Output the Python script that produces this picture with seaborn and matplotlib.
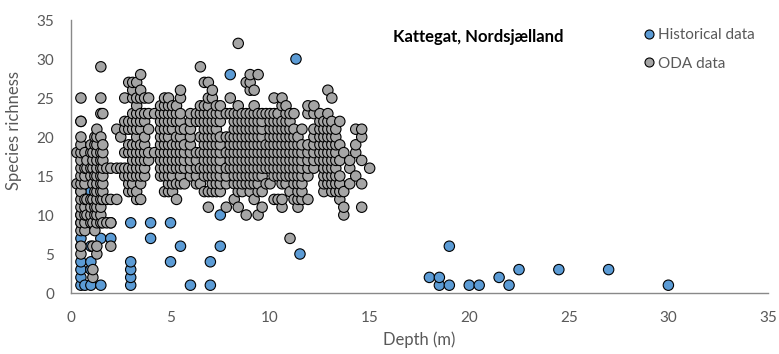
import matplotlib
matplotlib.use("Agg")
import matplotlib.pyplot as plt
from matplotlib.ticker import MultipleLocator
import seaborn as sns
import pandas as pd

# Historical survey stations: depth (m) and species richness
hist_depth = [0.5, 0.5, 0.5, 0.5, 0.5, 0.5, 0.5, 0.5, 0.5, 0.7,
              1.0, 1.0, 1.0, 1.0, 1.0, 1.5, 1.5, 2.0, 2.0,
              3.0, 3.0, 3.0, 3.0, 3.0, 4.0, 4.0, 5.0, 5.0, 5.5,
              6.0, 7.0, 7.0, 7.5, 7.5, 8.0, 11.3, 11.5, 12.9,
              18.0, 18.5, 18.5, 19.0, 19.0, 20.0, 20.5, 21.5, 22.0,
              22.5, 24.5, 27.0, 30.0]
hist_richness = [1, 2, 3, 4, 6, 7, 9, 10, 13, 1,
                 1, 3, 4, 6, 13, 1, 7, 7, 9,
                 1, 2, 3, 4, 9, 7, 9, 4, 9, 6,
                 1, 1, 4, 6, 10, 28, 30, 5, 19,
                 2, 1, 2, 1, 6, 1, 1, 2, 1,
                 3, 3, 3, 1]

# ODA monitoring data, grouped by transect depth (m)
oda_depths = [0.3, 0.5, 0.7, 0.8, 1.0, 1.1, 1.2, 1.3, 1.5, 1.6, 1.8, 2.0,
              2.3, 2.5, 2.7, 2.9, 3.1, 3.3, 3.5, 3.7, 3.9, 4.2, 4.5, 4.7,
              4.9, 5.1, 5.3, 5.5, 5.7, 6.0, 6.3, 6.5, 6.7, 6.9, 7.1, 7.3,
              7.5, 7.8, 8.0, 8.2, 8.4, 8.6, 8.8, 9.0, 9.2, 9.4, 9.6, 9.8,
              10.0, 10.2, 10.4, 10.6, 10.8, 11.0, 11.2, 11.4, 11.6, 11.9,
              12.2, 12.5, 12.7, 12.9, 13.1, 13.3, 13.5, 13.7, 14.0, 14.3,
              14.6, 15.0]
oda_richness = [
    [14, 18],
    [5, 6, 8, 9, 10, 11, 12, 13, 14, 15, 16, 17, 18, 19, 20, 22, 22, 25],
    [8, 9, 10, 11, 12, 14, 15, 16, 18],
    [10, 12, 16, 17],
    [9, 10, 11, 12, 15, 16, 18, 19],
    [2, 3, 6, 9, 12, 14, 16, 17, 18],
    [8, 10, 11, 13, 15, 19, 20],
    [5, 6, 9, 10, 11, 12, 13, 14, 15, 16, 17, 18, 19, 20, 21],
    [9, 10, 11, 12, 13, 14, 15, 16, 17, 18, 20, 23, 25, 29],
    [9, 12, 13, 14, 15, 16, 17, 18, 19, 23],
    [9, 12, 16],
    [6, 9, 12, 16],
    [12, 16, 21],
    [16, 20],
    [15, 16, 18, 21, 22, 25],
    [13, 14, 15, 16, 18, 19, 21, 22, 27],
    [13, 14, 15, 16, 17, 18, 19, 21, 22, 23, 25, 26, 27],
    [12, 13, 15, 16, 17, 18, 19, 20, 21, 22, 23, 24, 25, 27],
    [12, 14, 15, 16, 17, 18, 19, 21, 22, 23, 25, 26, 28],
    [15, 16, 17, 18, 19, 20, 22, 23, 25],
    [17, 18, 21, 23, 25],
    [18, 23],
    [15, 16, 17, 18, 19, 20, 21, 22, 23, 24],
    [13, 15, 16, 17, 18, 19, 20, 21, 22, 23, 24, 25],
    [13, 14, 15, 16, 17, 18, 19, 20, 21, 22, 23, 24, 25],
    [13, 14, 15, 16, 17, 18, 19, 21, 22, 23, 24],
    [12, 14, 16, 17, 18, 19, 20, 22, 23, 24],
    [14, 15, 16, 17, 18, 19, 20, 21, 22, 23, 25, 26],
    [14, 16, 17, 18, 19, 21],
    [15, 16, 17, 18, 19, 20, 21, 22, 23],
    [14, 15, 16, 17, 18, 22, 23],
    [14, 16, 18, 20, 22, 23, 24, 29],
    [13, 15, 16, 17, 18, 19, 20, 21, 22, 23, 24, 27],
    [11, 13, 15, 16, 17, 18, 19, 20, 21, 22, 23, 24, 25, 27],
    [13, 14, 15, 16, 17, 18, 19, 20, 21, 22, 23, 25, 26],
    [13, 14, 15, 16, 17, 18, 19, 20, 21, 22, 23, 24],
    [13, 14, 15, 16, 17, 18, 19, 20, 22, 23, 24],
    [11, 14, 15, 16, 18, 20, 23],
    [16, 17, 18, 19, 20, 23, 25],
    [12, 14, 15, 16, 17, 18, 19, 20, 21, 22, 23],
    [11, 13, 14, 15, 16, 17, 18, 19, 20, 21, 22, 23, 24, 32],
    [13, 14, 15, 16, 17, 18, 19, 20, 21, 22, 23],
    [10, 14, 15, 16, 17, 18, 19, 20, 21, 22, 23, 27],
    [13, 14, 15, 16, 17, 18, 19, 20, 21, 22, 23, 26, 27, 28],
    [12, 14, 15, 16, 17, 18, 19, 20, 21, 22, 23, 24, 26],
    [10, 13, 14, 15, 16, 17, 18, 19, 20, 21, 22, 23, 28],
    [11, 13, 15, 16, 17, 18, 19, 20, 21, 22, 23],
    [14, 16, 17, 18, 19, 23],
    [14, 16, 17, 18, 19, 20, 21, 22, 23],
    [12, 15, 16, 17, 18, 19, 20, 21, 22, 23, 25],
    [12, 15, 16, 17, 18, 19, 20, 21, 22, 23],
    [11, 12, 14, 15, 16, 17, 18, 19, 20, 21, 22, 24, 25],
    [14, 15, 16, 17, 18, 19, 20, 21, 22, 23, 24],
    [7, 13, 15, 16, 17, 18, 19, 20, 21, 22, 23],
    [12, 14, 15, 16, 17, 18, 19, 20, 21, 23],
    [11, 12, 13, 14, 15, 16, 17, 18, 19, 20],
    [12, 13, 14, 15, 16, 17, 18, 19, 21],
    [12, 15, 16, 17, 18, 19, 23, 24],
    [16, 17, 18, 19, 20, 21, 23, 24],
    [17, 18, 19, 20, 21, 22, 23],
    [13, 14, 15, 16, 17, 18, 19, 20, 21, 22],
    [14, 15, 16, 17, 18, 19, 20, 21, 22, 23, 26],
    [13, 14, 15, 16, 17, 18, 19, 20, 21, 22, 25],
    [13, 14, 15, 16, 17, 18, 19, 20, 21],
    [12, 13, 14, 15, 17, 19, 22],
    [10, 11, 13, 18],
    [14, 16, 17],
    [15, 18, 19, 21],
    [11, 14, 17, 20, 21],
    [16],
]

series_names = ["Historical data", "ODA data"]
series_colors = ["#5B9BD5", "#A5A5A5"]

rows = [(d, r, series_names[0]) for d, r in zip(hist_depth, hist_richness)]
for d, vals in zip(oda_depths, oda_richness):
    rows.extend((d, r, series_names[1]) for r in vals)
df = pd.DataFrame(rows, columns=["depth", "richness", "source"])

sns.set_theme(style="white")
plt.rcParams["font.family"] = ["Lato", "DejaVu Sans"]

text_grey = "#595959"
axis_grey = "#898989"

fig = plt.figure(figsize=(7.79, 3.54), dpi=100)
ax = fig.add_axes([0.0911, 0.1723, 0.8947, 0.7712])

sns.scatterplot(data=df, x="depth", y="richness", hue="source",
                hue_order=series_names, palette=series_colors,
                s=56, edgecolor="black", linewidth=0.8, alpha=1,
                ax=ax, legend=False, zorder=3)

ax.set_xlim(0, 35)
ax.set_ylim(0, 35)
ax.xaxis.set_major_locator(MultipleLocator(5))
ax.xaxis.set_minor_locator(MultipleLocator(1))
ax.yaxis.set_major_locator(MultipleLocator(5))
ax.yaxis.set_minor_locator(MultipleLocator(1))

for side in ("top", "right"):
    ax.spines[side].set_visible(False)
for side in ("left", "bottom"):
    ax.spines[side].set_color(axis_grey)
    ax.spines[side].set_linewidth(1.0)

ax.tick_params(axis="both", which="both", direction="out", color=axis_grey,
               labelcolor=text_grey, labelsize=11, width=0.8)
ax.tick_params(axis="both", which="major", length=5)
ax.tick_params(axis="both", which="minor", length=4)
ax.tick_params(axis="x", which="major", pad=8)
ax.tick_params(axis="y", which="major", pad=7)

ax.set_xlabel("Depth (m)", color=text_grey, fontsize=12)
ax.set_ylabel("Species richness", color=text_grey, fontsize=12)
ax.xaxis.set_label_coords(0.499, -0.14)
ax.yaxis.set_label_coords(-0.070, 0.595)

ax.text(0.462, 0.939, "Kattegat, Nordsjælland", transform=ax.transAxes,
        fontsize=12, fontweight="bold", color="black", ha="left", va="center")

handles = [plt.Line2D([], [], marker="o", linestyle="", markersize=6.5,
                      markerfacecolor=c, markeredgecolor="black",
                      markeredgewidth=0.8)
           for c in series_colors]
leg = ax.legend(handles, series_names, loc="upper left",
                bbox_to_anchor=(0.81, 0.993), frameon=False, fontsize=11,
                handletextpad=0.1, handlelength=1.0, labelspacing=0.95,
                borderaxespad=0)
for t in leg.get_texts():
    t.set_color(text_grey)

fig.savefig("out.png", dpi=100)
